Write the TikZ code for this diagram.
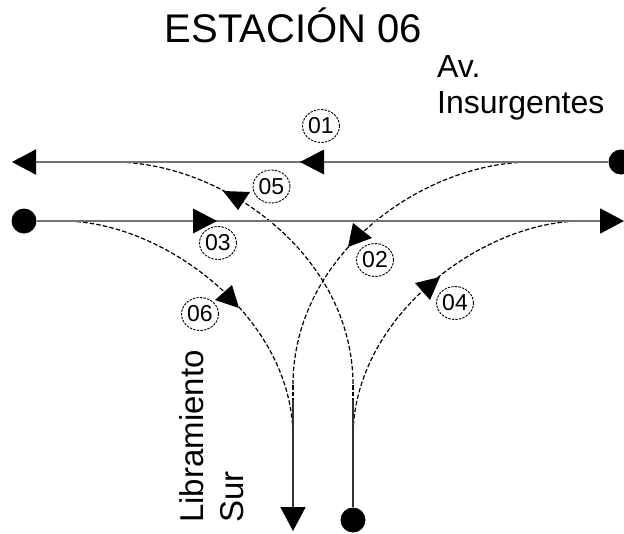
\documentclass[tikz,border=0pt]{standalone}
\usepackage{fontspec}
\setmainfont{Liberation Sans}
\usetikzlibrary{arrows.meta,shapes.geometric}
\begin{document}
\begin{tikzpicture}[x=1pt,y=-1pt,
  road/.style={draw=black!55, line width=1.9pt},
  vert/.style={draw=black!80, line width=1.7pt},
  curve/.style={draw=black, line width=1.2pt, dash pattern=on 4.5pt off 2.2pt},
  dot/.style={circle, fill=black, minimum size=25pt, inner sep=0pt},
  lbl/.style={ellipse, draw, dash pattern=on 2.4pt off 1.2pt, line width=0.9pt,
              minimum width=37pt, minimum height=33pt, inner sep=0pt,
              font=\fontsize{23}{23}\selectfont},
  tipend/.style={-{Triangle[length=24pt,width=25pt,color=black]}},
  head/.style={fill=black},
  txt/.style={inner sep=0pt, font=\fontsize{32}{38}\selectfont}]
\useasboundingbox (0,0) rectangle (624,533);

% texts
\node[inner sep=0pt, anchor=base, font=\fontsize{40}{48}\selectfont] (title) at (293.5,42) {ESTACIÓN 06};
\node[txt, anchor=base west] (av) at (437,77) {Av.};
\node[txt, anchor=base west] (ins) at (437,113) {Insurgentes};
\node[txt, rotate=90, anchor=base west, font=\fontsize{33}{40}\selectfont] (lib) at (203,523) {Libramiento};
\node[txt, rotate=90, anchor=base west, font=\fontsize{33}{40}\selectfont] (sur) at (243,523) {Sur};

% end points
\node[dot] (E1) at (621,162) {};
\node[dot] (W2) at (24,221) {};
\node[dot] (N2) at (353,520) {};
\coordinate (L1W) at (12,162);
\coordinate (L2E) at (624,221);
\coordinate (V1d) at (293,385);
\coordinate (V1s) at (293,400);
\coordinate (V1e) at (293,531);
\coordinate (V2d) at (353,385);
\coordinate (V2s) at (353,400);

% curve ends
\coordinate (c05a) at (113,162);
\coordinate (c05b) at (353,385);
\coordinate (c02a) at (532,162);
\coordinate (c02b) at (293,385);
\coordinate (c06a) at (63,221);
\coordinate (c06b) at (293,437);
\coordinate (c04a) at (582,221);
\coordinate (c04b) at (353,437);

% dashed turning movements
\draw[curve] (c05a) .. controls (223,162) and (353,255) .. (c05b);
\draw[curve] (c02a) .. controls (422,162) and (293,255) .. (c02b);
\draw[curve] (c06a) .. controls (163,221) and (293,317) .. (c06b);
\draw[curve] (c04a) .. controls (482,221) and (353,317) .. (c04b);
\draw[curve] (V1d) -- (V1s);
\draw[curve] (V2d) -- (V2s);

% roads
\draw[road, tipend] (E1) -- (L1W);
\draw[road, tipend] (W2) -- (L2E);
\draw[vert, tipend] (V1s) -- (V1e);
\draw[vert] (N2) -- (V2s);

% mid arrowheads
\fill[head] (300,162) -- (324,149.5) -- (324,174.5) -- cycle; % 01
\fill[head] (217,221) -- (193,208.5) -- (193,233.5) -- cycle; % 03
\fill[head] (223,191) -- (250,192) -- (238,210) -- cycle;     % 05
\fill[head] (353,223) -- (372,238) -- (348,247) -- cycle;     % 02
\fill[head] (415,283) -- (440,277) -- (430,300) -- cycle;     % 04
\fill[head] (215,300) -- (232,285) -- (239,308) -- cycle;     % 06

% labels
\node[lbl] (n01) at (321,126) {01};
\node[lbl] (n05) at (271.5,186.5) {05};
\node[lbl] (n03) at (218,243) {03};
\node[lbl] (n02) at (375,260) {02};
\node[lbl] (n04) at (455,303) {04};
\node[lbl] (n06) at (200,314) {06};
\end{tikzpicture}
\end{document}
